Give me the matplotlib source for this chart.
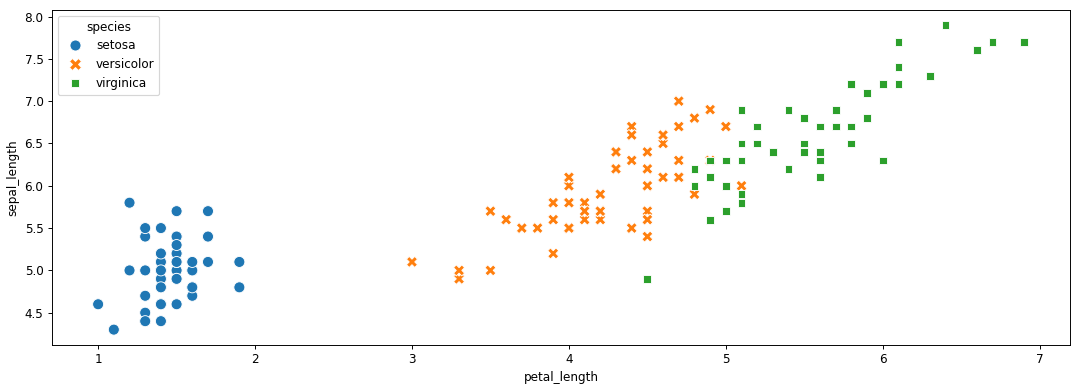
import numpy as np
import pandas as pd
import matplotlib
matplotlib.use("Agg")
import matplotlib.pyplot as plt
import seaborn as sns

# iris: petal_length / sepal_length per species
setosa_petal = [1.4, 1.4, 1.3, 1.5, 1.4, 1.7, 1.4, 1.5, 1.4, 1.5,
                1.5, 1.6, 1.4, 1.1, 1.2, 1.5, 1.3, 1.4, 1.7, 1.5,
                1.7, 1.5, 1.0, 1.7, 1.9, 1.6, 1.6, 1.5, 1.4, 1.6,
                1.6, 1.5, 1.5, 1.4, 1.5, 1.2, 1.3, 1.4, 1.3, 1.5,
                1.3, 1.3, 1.3, 1.6, 1.9, 1.4, 1.6, 1.4, 1.5, 1.4]
setosa_sepal = [5.1, 4.9, 4.7, 4.6, 5.0, 5.4, 4.6, 5.0, 4.4, 4.9,
                5.4, 4.8, 4.8, 4.3, 5.8, 5.7, 5.4, 5.1, 5.7, 5.1,
                5.4, 5.1, 4.6, 5.1, 4.8, 5.0, 5.0, 5.2, 5.2, 4.7,
                4.8, 5.4, 5.2, 5.5, 4.9, 5.0, 5.5, 4.9, 4.4, 5.1,
                5.0, 4.5, 4.4, 5.0, 5.1, 4.8, 5.1, 4.6, 5.3, 5.0]

versicolor_petal = [4.7, 4.5, 4.9, 4.0, 4.6, 4.5, 4.7, 3.3, 4.6, 3.9,
                    3.5, 4.2, 4.0, 4.7, 3.6, 4.4, 4.5, 4.1, 4.5, 3.9,
                    4.8, 4.0, 4.9, 4.7, 4.3, 4.4, 4.8, 5.0, 4.5, 3.5,
                    3.8, 3.7, 3.9, 5.1, 4.5, 4.5, 4.7, 4.4, 4.1, 4.0,
                    4.4, 4.6, 4.0, 3.3, 4.2, 4.2, 4.2, 4.3, 3.0, 4.1]
versicolor_sepal = [7.0, 6.4, 6.9, 5.5, 6.5, 5.7, 6.3, 4.9, 6.6, 5.2,
                    5.0, 5.9, 6.0, 6.1, 5.6, 6.7, 5.6, 5.8, 6.2, 5.6,
                    5.9, 6.1, 6.3, 6.1, 6.4, 6.6, 6.8, 6.7, 6.0, 5.7,
                    5.5, 5.5, 5.8, 6.0, 5.4, 6.0, 6.7, 6.3, 5.6, 5.5,
                    5.5, 6.1, 5.8, 5.0, 5.6, 5.7, 5.7, 6.2, 5.1, 5.7]

virginica_petal = [6.0, 5.1, 5.9, 5.6, 5.8, 6.6, 4.5, 6.3, 5.8, 6.1,
                   5.1, 5.3, 5.5, 5.0, 5.1, 5.3, 5.5, 6.7, 6.9, 5.0,
                   5.7, 4.9, 6.7, 4.9, 5.7, 6.0, 4.8, 4.9, 5.6, 5.8,
                   6.1, 6.4, 5.6, 5.1, 5.6, 6.1, 5.6, 5.5, 4.8, 5.4,
                   5.6, 5.1, 5.1, 5.9, 5.7, 5.2, 5.0, 5.2, 5.4, 5.1]
virginica_sepal = [6.3, 5.8, 7.1, 6.3, 6.5, 7.6, 4.9, 7.3, 6.7, 7.2,
                   6.5, 6.4, 6.8, 5.7, 5.8, 6.4, 6.5, 7.7, 7.7, 6.0,
                   6.9, 5.6, 7.7, 6.3, 6.7, 7.2, 6.2, 6.1, 6.4, 7.2,
                   7.4, 7.9, 6.4, 6.3, 6.1, 7.7, 6.3, 6.4, 6.0, 6.9,
                   6.7, 6.9, 5.8, 6.8, 6.7, 6.7, 6.3, 6.5, 6.2, 5.9]

species = ["setosa", "versicolor", "virginica"]

df = pd.DataFrame({
    "petal_length": setosa_petal + versicolor_petal + virginica_petal,
    "sepal_length": setosa_sepal + versicolor_sepal + virginica_sepal,
    "species": [species[0]] * 50 + [species[1]] * 50 + [species[2]] * 50,
})

DPI = 86
fig, ax = plt.subplots(figsize=(1080 / DPI, 391 / DPI), dpi=DPI)
sns.scatterplot(data=df, x="petal_length", y="sepal_length",
                hue="species", style="species", s=85, ax=ax)

fig.subplots_adjust(left=0.048, right=0.991, top=0.975, bottom=0.118)
fig.savefig("out.png", dpi=DPI)
